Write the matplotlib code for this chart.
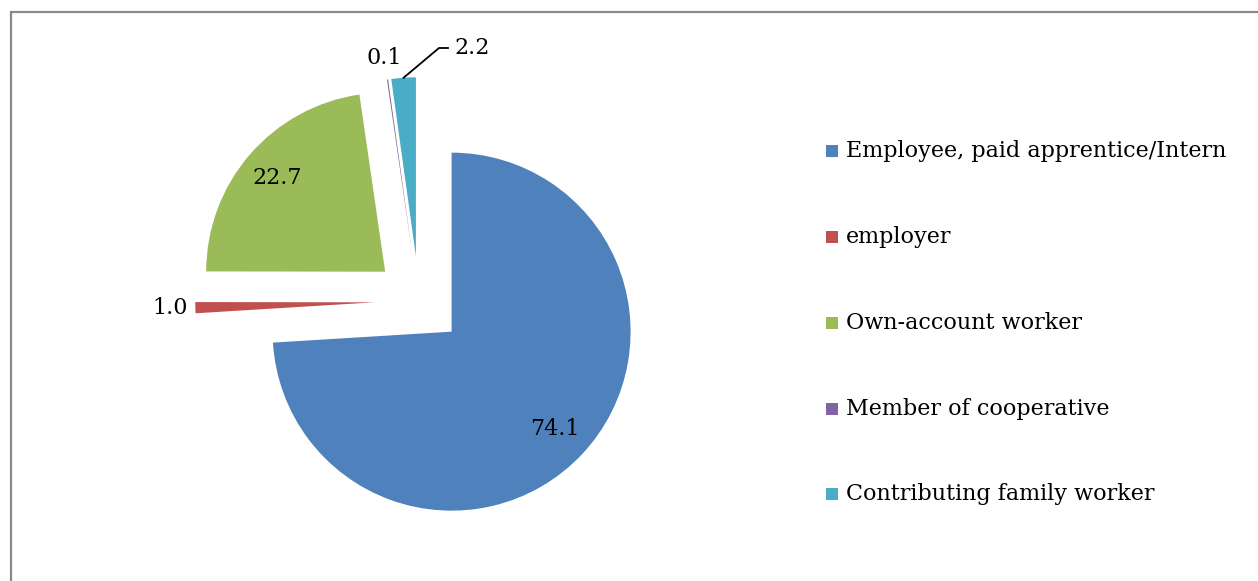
import numpy as np
import matplotlib
matplotlib.use("Agg")
import matplotlib.pyplot as plt
from matplotlib.lines import Line2D
from matplotlib.patches import Rectangle

categories = ["Employee, paid apprentice/Intern", "employer", "Own-account worker",
              "Member of cooperative", "Contributing family worker"]
values = [74.1, 1.0, 22.7, 0.1, 2.2]
colors = ["#4F81BD", "#C0504D", "#9BBB59", "#8064A2", "#4BACC6"]

FONT = "DejaVu Serif"
W, H = 1258, 581
fig = plt.figure(figsize=(W / 100, H / 100), dpi=100)
ax = fig.add_axes([0, 0, 1, 1])

R = 179.0  # px per data unit
cxp, cyp = 419.0, 301.0

wedges, _ = ax.pie(values, colors=colors, startangle=90, counterclock=False,
                   explode=[0.25] * len(values), radius=1.0, center=(0, 0),
                   wedgeprops=dict(linewidth=0), frame=True)
ax.set_xlim(-cxp / R, (W - cxp) / R)
ax.set_ylim(-(H - cyp) / R, cyp / R)
ax.set_aspect("auto")
ax.axis("off")

label_dist = [0.79, 1.14, 0.80, 1.12, None]
fs = 16
for w, v, d in zip(wedges, values, label_dist):
    mid = np.deg2rad((w.theta1 + w.theta2) / 2)
    cx, cy = w.center
    txt = f"{v:.1f}"
    if d is not None:
        ax.text(cx + d * np.cos(mid), cy + d * np.sin(mid), txt, ha="center", va="center",
                fontsize=fs, family=FONT, color="black")
    else:
        sx, sy = cx + np.cos(mid), cy + np.sin(mid)
        ex, ey = (439 - cxp) / R, (cyp - 48) / R
        fx = (448 - cxp) / R
        ax.plot([sx, ex, fx], [sy, ey, ey], color="black", lw=1.3)
        ax.text((454 - cxp) / R, ey, txt, ha="left", va="center",
                fontsize=fs, family=FONT, color="black")

# legend drawn manually
ys = [151, 237, 323, 409, 494]
for cat, col, y in zip(categories, colors, ys):
    fig.add_artist(Rectangle((826 / W, 1 - (y + 6) / H), 12 / W, 12 / H,
                             transform=fig.transFigure, facecolor=col, edgecolor="none"))
    fig.text(846 / W, 1 - y / H, cat, ha="left", va="center", fontsize=fs,
             family=FONT, color="black")

# chart border (top and left visible)
bc = "#898989"
fig.add_artist(Line2D([10 / W, 1.0], [1 - 11.5 / H, 1 - 11.5 / H], transform=fig.transFigure,
                      color=bc, lw=1.6, solid_capstyle="butt"))
fig.add_artist(Line2D([10.5 / W, 10.5 / W], [1 - 11 / H, 0], transform=fig.transFigure,
                      color=bc, lw=1.6, solid_capstyle="butt"))

fig.savefig("out.png", dpi=100)
